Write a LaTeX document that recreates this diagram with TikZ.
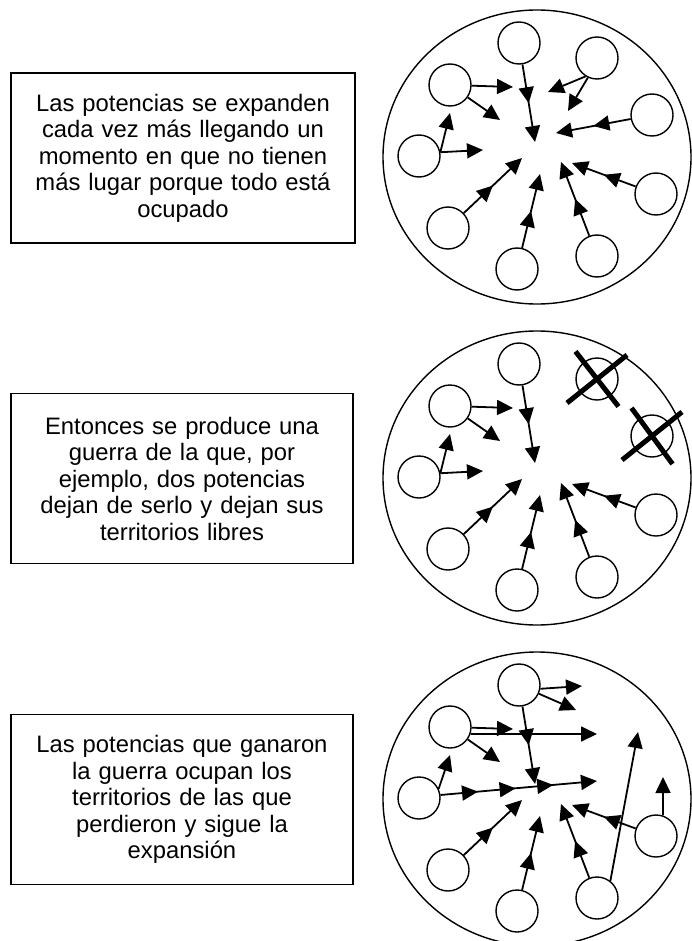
\documentclass[tikz,border=0pt]{standalone}
\usepackage{fontspec}
\setmainfont{Liberation Sans}
\usetikzlibrary{arrows.meta,decorations.markings}

\begin{document}
\begin{tikzpicture}[x=1pt, y=-1pt,
    textbox/.style={rectangle, draw, line width=1.7pt, inner sep=0pt,
      minimum width=344pt, minimum height=170pt, text width=330pt, align=center,
      font=\fontsize{23.8}{26.5}\selectfont},
    world/.style={line width=1.4pt},
    pot/.style={circle, draw, line width=1.4pt, minimum size=42pt, inner sep=0pt},
    arr/.style={line width=1.8pt, -{Triangle[length=16pt, width=15pt]}},
    midhead/.style={postaction={decorate, decoration={markings,
        mark=at position #1 with {\arrow{Triangle[length=16pt, width=15pt]}}}}},
    midhead/.default=0.5,
    xline/.style={line width=5pt}
    ]
    \useasboundingbox (0,0) rectangle (691,941);

    \node[textbox] (txt1) at (183,158) {Las potencias se expanden\\ cada vez más llegando un\\ momento en que no tienen\\ más lugar porque todo está\\ ocupado};
    \node[textbox, minimum width=342pt] (txt2) at (182,478.5) {Entonces se produce una\\ guerra de la que, por\\ ejemplo, dos potencias\\ dejan de serlo y dejan sus\\ territorios libres};
    \node[textbox, minimum width=342pt] (txt3) at (182,799.5) {Las potencias que ganaron\\ la guerra ocupan los\\ territorios de las que\\ perdieron y sigue la\\ expansión};

    \begin{scope}[name prefix=a-]
      \draw[world] (537,157) ellipse [x radius=154pt, y radius=147pt];
      \node[pot] (p1) at (519,43) {};
      \node[pot] (p2) at (597,58) {};
      \node[pot] (p3) at (450,85) {};
      \node[pot] (p4) at (652,115) {};
      \node[pot] (p5) at (419,156) {};
      \node[pot] (p6) at (656,194) {};
      \node[pot] (p7) at (448,228) {};
      \node[pot] (p8) at (517,269) {};
      \node[pot] (p9) at (597,256) {};
      \coordinate (e1) at (535,142);
      \coordinate (e2) at (513,87);
      \coordinate (e3) at (500,120);
      \coordinate (e4) at (450,113);
      \coordinate (e5) at (483,150);
      \coordinate (e6) at (548,92);
      \coordinate (e7) at (568,111);
      \coordinate (e8) at (556,133);
      \coordinate (e9) at (572,163);
      \coordinate (e10) at (561,162);
      \coordinate (e11) at (540,174);
      \coordinate (e12) at (522,158);
      \draw[arr, midhead] (p1) -- (e1);
      \draw[arr] (p3) -- (e2);
      \draw[arr] (p3) -- (e3);
      \draw[arr] (p5.10) -- (e4);
      \draw[arr] (p5.10) -- (e5);
      \draw[arr] (p2.-122) -- (e6);
      \draw[arr] (p2.-115) -- (e7);
      \draw[arr, midhead] (p4) -- (e8);
      \draw[arr, midhead] (p6) -- (e9);
      \draw[arr, midhead] (p9) -- (e10);
      \draw[arr, midhead] (p8) -- (e11);
      \draw[arr, midhead] (p7) -- (e12);
    \end{scope}

    \begin{scope}[shift={(0,321)}, name prefix=b-]
      \draw[world] (537,157) ellipse [x radius=154pt, y radius=147pt];
      \node[pot] (p1) at (519,43) {};
      \node[pot] (p2) at (597,58) {};
      \node[pot] (p3) at (450,85) {};
      \node[pot] (p4) at (652,115) {};
      \node[pot] (p5) at (419,156) {};
      \node[pot] (p6) at (656,194) {};
      \node[pot] (p7) at (448,228) {};
      \node[pot] (p8) at (517,269) {};
      \node[pot] (p9) at (597,256) {};
      \coordinate (e1) at (535,142);
      \coordinate (e2) at (513,87);
      \coordinate (e3) at (500,120);
      \coordinate (e4) at (450,113);
      \coordinate (e5) at (483,150);
      \coordinate (e9) at (572,163);
      \coordinate (e10) at (561,162);
      \coordinate (e11) at (540,174);
      \coordinate (e12) at (522,158);
      \draw[arr, midhead] (p1) -- (e1);
      \draw[arr] (p3) -- (e2);
      \draw[arr] (p3) -- (e3);
      \draw[arr] (p5.10) -- (e4);
      \draw[arr] (p5.10) -- (e5);
      \draw[arr, midhead] (p6) -- (e9);
      \draw[arr, midhead] (p9) -- (e10);
      \draw[arr, midhead] (p8) -- (e11);
      \draw[arr, midhead] (p7) -- (e12);
      \draw[xline] ([shift={(-30,24)}]p2.center) -- ([shift={(30,-24)}]p2.center);
      \draw[xline] ([shift={(-21.5,-27.5)}]p2.center) -- ([shift={(21.5,27.5)}]p2.center);
      \draw[xline] ([shift={(-30,24)}]p4.center) -- ([shift={(30,-24)}]p4.center);
      \draw[xline] ([shift={(-20.5,-28)}]p4.center) -- ([shift={(20.5,28)}]p4.center);
    \end{scope}

    \begin{scope}[shift={(0,642)}, name prefix=c-]
      \draw[world] (537,157) ellipse [x radius=154pt, y radius=147pt];
      \node[pot] (p1) at (519,43) {};
      \node[pot] (p3) at (450,85) {};
      \node[pot] (p5) at (419,156) {};
      \node[pot] (p6) at (656,194) {};
      \node[pot] (p7) at (448,228) {};
      \node[pot] (p8) at (517,269) {};
      \node[pot] (p9) at (597,256) {};
      \coordinate (e1) at (535,142);
      \coordinate (e2) at (513,87);
      \coordinate (e3) at (500,120);
      \coordinate (e4) at (450,113);
      \coordinate (e9) at (572,163);
      \coordinate (e10) at (561,162);
      \coordinate (e11) at (540,174);
      \coordinate (e12) at (522,158);
      \coordinate (f1) at (582,44);
      \coordinate (f2) at (576,68);
      \coordinate (f3) at (597,92);
      \coordinate (f4) at (597,139);
      \coordinate (f5) at (663,135);
      \coordinate (f6) at (638,90);
      \draw[arr] (p1.-10) -- (f1);
      \draw[arr] (p1) -- (f2);
      \draw[arr] (p3.-19) -- (f3);
      \draw[arr, midhead] (p1) -- (e1);
      \draw[arr] (p3) -- (e2);
      \draw[arr] (p3) -- (e3);
      \draw[arr] (p5.25) -- (e4);
      \draw[arr, midhead=0.24, midhead=0.48, midhead=0.72] (p5.8) -- (f4);
      \draw[arr, midhead] (p6) -- (e9);
      \draw[arr] (p6.71) -- (f5);
      \draw[arr, midhead] (p9) -- (e10);
      \draw[arr] (p9.52) -- (f6);
      \draw[arr, midhead] (p8) -- (e11);
      \draw[arr, midhead] (p7) -- (e12);
    \end{scope}
\end{tikzpicture}
\end{document}
